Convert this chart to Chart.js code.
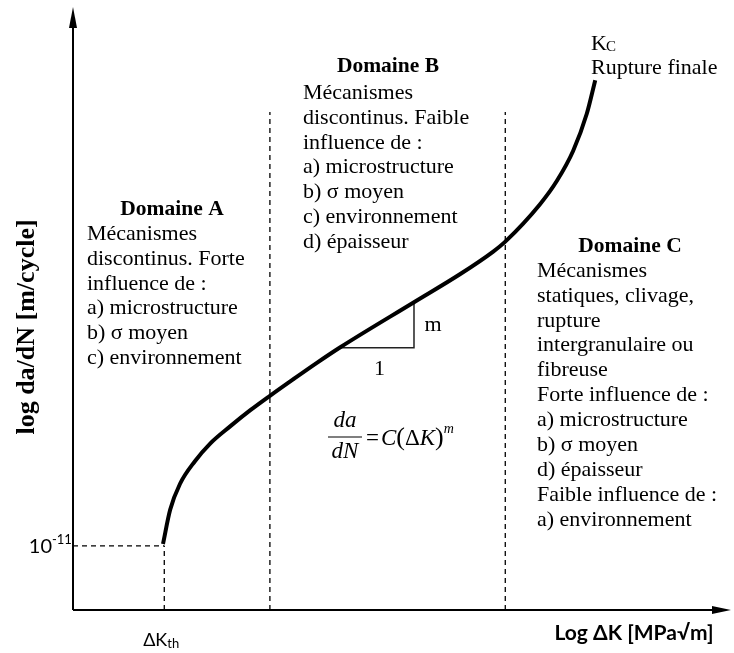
<!DOCTYPE html>
<html>
<head>
<meta charset="utf-8">
<script src="https://cdn.jsdelivr.net/npm/chart.js@4"></script>
<style>
  body { margin: 0; background: #fff; }
  #wrap { width: 734px; height: 653px; position: relative; }
</style>
</head>
<body>
<div id="wrap"><canvas id="graficafatiga"></canvas></div>
<script>
// courbe da/dN = f(ΔK), unites arbitraires (log)
var logDK   = [1.38, 1.49, 1.64, 1.87, 2.10, 2.41, 2.72, 3.02, 3.37, 3.74, 4.10, 5.23, 5.94, 6.44, 6.63, 7.16, 7.42, 7.67, 7.88, 8.01];
var logDaDN = [1.10, 1.67, 2.10, 2.48, 2.77, 3.06, 3.33, 3.57, 3.84, 4.12, 4.38, 5.13, 5.60, 5.97, 6.14, 6.76, 7.15, 7.65, 8.27, 8.83];

// limites des domaines A / B / C
var limites = [3.02, 6.63];
var hautLimite = 8.3;
// seuil
var dkSeuil = 1.40;
var daSeuil = 1.07;
// triangle de pente m
var triX = [4.05, 5.23, 5.23];
var triY = [4.37, 4.37, 5.13];

var serif = '"Liberation Serif", "Times New Roman", serif';
var sans = 'Lato, "Open Sans", sans-serif';

var courbe = logDK.map(function(x, i){ return {x: x, y: logDaDN[i]}; });
var dash = [5, 4];

var datasets = [{
    data: courbe,
    borderColor: '#000',
    borderWidth: 4,
    pointRadius: 0,
    cubicInterpolationMode: 'monotone',
    order: 0
}];
limites.forEach(function(l){
    datasets.push({data: [{x: l, y: 0}, {x: l, y: hautLimite}], borderColor: '#000', borderWidth: 1.3, borderDash: dash, pointRadius: 0});
});
datasets.push({data: [{x: dkSeuil, y: 0}, {x: dkSeuil, y: daSeuil}], borderColor: '#000', borderWidth: 1.3, borderDash: dash, pointRadius: 0});
datasets.push({data: [{x: 0, y: daSeuil}, {x: dkSeuil, y: daSeuil}], borderColor: '#000', borderWidth: 1.3, borderDash: dash, pointRadius: 0});
datasets.push({data: triX.map(function(x, i){ return {x: x, y: triY[i]}; }), borderColor: '#222', borderWidth: 1.5, pointRadius: 0});

var textes = {
    id: 'textes',
    afterDraw: function(chart){
        var c = chart.ctx, a = chart.chartArea;
        var sx = chart.scales.x, sy = chart.scales.y;
        c.save();
        // axes avec fleches
        c.strokeStyle = '#000'; c.fillStyle = '#000'; c.lineWidth = 2;
        c.beginPath(); c.moveTo(a.left, a.bottom); c.lineTo(a.left, 24); c.stroke();
        c.beginPath(); c.moveTo(a.left, 7); c.lineTo(a.left - 4, 28); c.lineTo(a.left + 4, 28); c.closePath(); c.fill();
        c.beginPath(); c.moveTo(a.left, a.bottom); c.lineTo(716, a.bottom); c.stroke();
        c.beginPath(); c.moveTo(731, a.bottom); c.lineTo(712, a.bottom - 4); c.lineTo(712, a.bottom + 4); c.closePath(); c.fill();

        c.textBaseline = 'middle';
        // 10^-11
        var yS = sy.getPixelForValue(daSeuil);
        c.font = '20px ' + sans; c.textAlign = 'right';
        c.fillText('10', 52, yS + 1);
        c.font = '13px ' + sans; c.textAlign = 'left';
        c.fillText('-11', 52, yS - 6);
        // ΔKth
        var xS = sx.getPixelForValue(dkSeuil);
        c.font = '18px ' + sans; c.textAlign = 'right';
        c.fillText('ΔK', xS + 3, 640);
        c.font = '13px ' + sans; c.textAlign = 'left';
        c.fillText('th', xS + 3, 644);
        // titre axe x
        c.font = 'bold 21px ' + sans; c.textAlign = 'center';
        c.fillText('Log ΔK [MPa√m]', 634, 633);
        // titre axe y
        c.save();
        c.translate(27, 327); c.rotate(-Math.PI / 2);
        c.font = 'bold 26px ' + serif;
        c.fillText('log da/dN [m/cycle]', 0, 0);
        c.restore();

        function bloc(titre, cx, ty, lignes, lx, ly){
            c.font = 'bold 21.5px ' + serif; c.textAlign = 'center';
            c.fillText(titre, cx, ty);
            c.font = '22px ' + serif; c.textAlign = 'left';
            lignes.forEach(function(t, i){ c.fillText(t, lx, ly + i * 24.9); });
        }
        bloc('Domaine A', 172, 209, ['Mécanismes', 'discontinus. Forte', 'influence de :', 'a) microstructure', 'b) σ moyen', 'c) environnement'], 87, 234);
        bloc('Domaine B', 388, 66, ['Mécanismes', 'discontinus. Faible', 'influence de :', 'a) microstructure', 'b) σ moyen', 'c) environnement', 'd) épaisseur'], 303, 93);
        bloc('Domaine C', 630, 246, ['Mécanismes', 'statiques, clivage,', 'rupture', 'intergranulaire ou', 'fibreuse', 'Forte influence de :', 'a) microstructure', 'b) σ moyen', 'd) épaisseur', 'Faible influence de :', 'a) environnement'], 537, 271);

        // Kc
        c.font = '22px ' + serif; c.textAlign = 'left';
        c.fillText('K', 591, 44);
        c.font = '15px ' + serif;
        c.fillText('C', 606, 47);
        c.font = '22px ' + serif;
        c.fillText('Rupture finale', 591, 68);

        // m et 1
        c.textAlign = 'center';
        c.fillText('m', sx.getPixelForValue(triX[2]) + 19, (sy.getPixelForValue(triY[1]) + sy.getPixelForValue(triY[2])) / 2);
        c.fillText('1', (sx.getPixelForValue(triX[0]) + sx.getPixelForValue(triX[1])) / 2 + 4, sy.getPixelForValue(triY[0]) + 21);

        // formule de Paris
        c.font = 'italic 23px ' + serif;
        c.fillText('da', 345, 421);
        c.fillText('dN', 345, 452);
        c.lineWidth = 1.2;
        c.beginPath(); c.moveTo(328, 437); c.lineTo(362, 437); c.stroke();
        c.textAlign = 'left';
        var x = 366;
        function piece(t, f, dy){
            c.font = f;
            c.fillText(t, x, 439 + dy);
            x += c.measureText(t).width;
        }
        piece('=', '23px ' + serif, 0);
        x += 2;
        piece('C', 'italic 23px ' + serif, 0);
        piece('(', '26px ' + serif, -1);
        piece('Δ', '23px ' + serif, 0);
        piece('K', 'italic 23px ' + serif, 0);
        piece(')', '26px ' + serif, -1);
        piece('m', 'italic 14px ' + serif, -10);
        c.restore();
    }
};

var ctx = document.getElementById('graficafatiga').getContext('2d');
var chart = new Chart(ctx, {
    type: 'line',
    data: { datasets: datasets },
    options: {
        responsive: true,
        maintainAspectRatio: false,
        animation: false,
        layout: { padding: { left: 73, right: 9, top: 10, bottom: 43 } },
        plugins: { legend: { display: false }, tooltip: { enabled: false } },
        scales: {
            x: { type: 'linear', min: 0, max: 10, display: false },
            y: { type: 'linear', min: 0, max: 10, display: false }
        }
    },
    plugins: [textes]
});
</script>
</body>
</html>
